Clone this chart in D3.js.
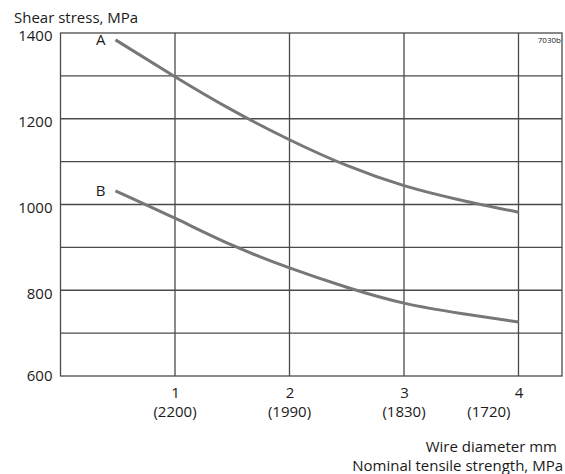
<!DOCTYPE html>
<html>
<head>
<meta charset="utf-8">
<script src="https://cdn.jsdelivr.net/npm/d3@7"></script>
<style>
  body { margin: 0; background: #fff; }
  text { font-family: "Open Sans", "Noto Sans", sans-serif; fill: #1a1a1a; }
</style>
</head>
<body>
<div id="chart-area"></div>
<script>
// data
var diameters = [0.48, 1, 1.5, 2, 2.5, 3, 3.5, 4];
var curveA = [1384, 1298, 1220, 1151, 1091, 1044, 1010, 982];
var curveB = [1032, 968, 905, 852, 807, 770, 746, 726];
var xTicks = [1, 2, 3, 4];
var strengthLabels = ["(2200)", "(1990)", "(1830)", "(1720)"];
var yTicks = [600, 800, 1000, 1200, 1400];
var yGrid = [700, 800, 900, 1000, 1100, 1200, 1300];

// margins
var margin = {left: 60.5, right: 3, top: 33, bottom: 98};
var width = 565 - margin.left - margin.right;
var height = 474 - margin.top - margin.bottom;

var x = d3.scaleLinear()
    .domain([0, 4.38])
    .range([0, width]);

var y = d3.scaleLinear()
    .domain([600, 1400])
    .range([height, 0]);

var svg = d3.select("#chart-area")
    .append("svg")
    .attr("width", 565)
    .attr("height", 474);

var g = svg.append("g")
    .attr("transform", "translate(" + margin.left + "," + margin.top + ")");

// grid
g.selectAll(".hgrid")
    .data(yGrid)
    .enter()
    .append("line")
    .attr("x1", 0)
    .attr("x2", width)
    .attr("y1", d => y(d))
    .attr("y2", d => y(d))
    .attr("stroke", "#4a4a4a")
    .attr("stroke-width", 1.3);

g.selectAll(".vgrid")
    .data(xTicks)
    .enter()
    .append("line")
    .attr("x1", d => x(d))
    .attr("x2", d => x(d))
    .attr("y1", 0)
    .attr("y2", height)
    .attr("stroke", "#4a4a4a")
    .attr("stroke-width", 1.3);

g.append("rect")
    .attr("width", width)
    .attr("height", height)
    .attr("fill", "none")
    .attr("stroke", "#4a4a4a")
    .attr("stroke-width", 1.3);

// axes (labels only)
var leftAxis = d3.axisLeft(y)
    .tickValues(yTicks)
    .tickSize(0)
    .tickPadding(8)
    .tickFormat(d3.format("d"));

var ya = g.append("g")
    .attr("class", "y-axis")
    .call(leftAxis);
ya.select(".domain").remove();
ya.selectAll("text")
    .style("font-size", "15px")
    .attr("fill", "#1a1a1a")
    .attr("y", d => d === 600 ? 0 : 3);

var bottomAxis = d3.axisBottom(x)
    .tickValues(xTicks)
    .tickSize(0)
    .tickPadding(11)
    .tickFormat(d3.format("d"));

var xa = g.append("g")
    .attr("class", "x-axis")
    .attr("transform", "translate(0," + height + ")")
    .call(bottomAxis);
xa.select(".domain").remove();
xa.selectAll("text")
    .style("font-size", "15px")
    .attr("fill", "#1a1a1a");

g.selectAll(".strength")
    .data(xTicks)
    .enter()
    .append("text")
    .attr("x", (d, i) => i === xTicks.length - 1 ? x(d) - 8 : x(d))
    .attr("y", height + 41)
    .attr("text-anchor", (d, i) => i === xTicks.length - 1 ? "end" : "middle")
    .style("font-size", "15px")
    .text((d, i) => strengthLabels[i]);

// curves
var line = d3.line()
    .x(d => x(d[0]))
    .y(d => y(d[1]))
    .curve(d3.curveNatural);

[curveA, curveB].forEach(function(vals) {
    g.append("path")
        .datum(diameters.map((d, i) => [d, vals[i]]))
        .attr("d", line)
        .attr("fill", "none")
        .attr("stroke", "#777")
        .attr("stroke-width", 3);
});

g.append("text")
    .attr("x", x(diameters[0]) - 10)
    .attr("y", y(curveA[0]) + 5)
    .attr("text-anchor", "end")
    .style("font-size", "15px")
    .text("A");

g.append("text")
    .attr("x", x(diameters[0]) - 10)
    .attr("y", y(curveB[0]) + 5)
    .attr("text-anchor", "end")
    .style("font-size", "15px")
    .text("B");

g.append("text")
    .attr("x", width - 1)
    .attr("y", 10)
    .attr("text-anchor", "end")
    .style("font-size", "8px")
    .attr("fill", "#555")
    .text("7030b");

// titles
svg.append("text")
    .attr("x", 14)
    .attr("y", 23)
    .style("font-size", "15px")
    .text("Shear stress, MPa");

svg.append("text")
    .attr("x", 557)
    .attr("y", 452)
    .attr("text-anchor", "end")
    .style("font-size", "15px")
    .text("Wire diameter mm");

svg.append("text")
    .attr("x", 563)
    .attr("y", 471)
    .attr("text-anchor", "end")
    .style("font-size", "15px")
    .text("Nominal tensile strength, MPa");
</script>
</body>
</html>
